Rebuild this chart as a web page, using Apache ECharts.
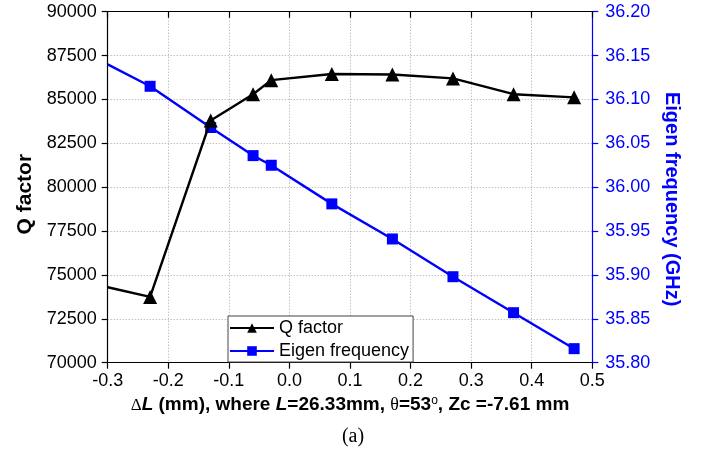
<!DOCTYPE html>
<html>
<head>
<meta charset="utf-8">
<script src="https://cdn.jsdelivr.net/npm/echarts@6/dist/echarts.min.js"></script>
<style>
  html, body { margin: 0; padding: 0; background: #fff; }
  #chart { width: 706px; height: 453px; }
</style>
</head>
<body>
<div id="chart"></div>
<script>
// Length offset ΔL (mm); the first point only starts the curve and has no marker
const deltaL = [-0.3, -0.23, -0.13, -0.06, -0.03, 0.07, 0.17, 0.27, 0.37, 0.47];
const qFactor = [74300, 73750, 83800, 85300, 86100, 86450, 86420, 86200, 85300, 85120];
const eigenFreq = [36.140, 36.115, 36.068, 36.036, 36.025, 35.981, 35.941, 35.898, 35.857, 35.816];

const qTicks = { min: 70000, max: 90000, step: 2500 };
const fTicks = { min: 35.8, max: 36.2, step: 0.05 };
const xTicks = { min: -0.3, max: 0.5, step: 0.1 };

const FONT = 'Liberation Sans, Arial, sans-serif';
const SERIF = 'Liberation Serif, Times New Roman, serif';
const BLUE = '#0000ff';

function pairs(ys) {
  return deltaL.map((x, i) => i === 0
    ? { value: [x, ys[i]], symbol: 'none' }
    : [x, ys[i]]);
}

const gridLine = { show: true, lineStyle: { color: '#a8a8a8', type: [1, 2], width: 1 } };

const chart = echarts.init(document.getElementById('chart'), null, { renderer: 'canvas' });

chart.setOption({
  backgroundColor: '#fff',
  animation: false,
  grid: { left: 107.7, right: 113.7, top: 11.7, bottom: 90.3 },
  legend: {
    left: 228, top: 316,
    orient: 'vertical',
    itemWidth: 44, itemHeight: 12, itemGap: 5,
    padding: [3, 4, 2, 1],
    backgroundColor: '#fff',
    borderColor: '#444', borderWidth: 1, borderRadius: 0,
    textStyle: { fontFamily: FONT, fontSize: 18, color: '#000' },
    data: ['Q factor', 'Eigen frequency']
  },
  xAxis: [{
    type: 'value', position: 'bottom',
    min: xTicks.min, max: xTicks.max, interval: xTicks.step,
    axisLine: { onZero: false, lineStyle: { color: '#000', width: 1.2 } },
    axisTick: { length: 6, lineStyle: { color: '#000', width: 1.2 } },
    axisLabel: { fontFamily: FONT, fontSize: 18, color: '#000', margin: 9,
      formatter: v => v.toFixed(1) },
    splitLine: gridLine,
    name: '{d|Δ}{i|L}{b| (mm), where }{i|L}{b|=26.33mm, }{t|θ}{b|=53}{o|o}{b|, Zc =-7.61 mm}',
    nameLocation: 'middle', nameGap: 31,
    nameTextStyle: {
      rich: {
        b: { fontFamily: FONT, fontSize: 19, fontWeight: 'bold', color: '#000' },
        i: { fontFamily: FONT, fontSize: 19, fontWeight: 'bold', fontStyle: 'italic', color: '#000' },
        d: { fontFamily: SERIF, fontSize: 17, color: '#000' },
        t: { fontFamily: SERIF, fontSize: 18, color: '#000' },
        o: { fontFamily: FONT, fontSize: 12, color: '#000', verticalAlign: 'top', padding: [0, 0, 9, 0] }
      }
    }
  }, {
    type: 'value', position: 'top',
    min: xTicks.min, max: xTicks.max, interval: xTicks.step,
    axisLine: { onZero: false, lineStyle: { color: '#000', width: 1.2 } },
    axisTick: { inside: true, length: 6, lineStyle: { color: '#000', width: 1.2 } },
    axisLabel: { show: false },
    splitLine: { show: false }
  }],
  yAxis: [{
    type: 'value', position: 'left',
    min: qTicks.min, max: qTicks.max, interval: qTicks.step,
    axisLine: { show: true, onZero: false, lineStyle: { color: '#000', width: 1.2 } },
    axisTick: { show: true, length: 6, lineStyle: { color: '#000', width: 1.2 } },
    axisLabel: { fontFamily: FONT, fontSize: 18, color: '#000', margin: 11,
      formatter: v => String(v) },
    splitLine: gridLine,
    name: 'Q factor', nameLocation: 'middle', nameGap: 70,
    nameTextStyle: { fontFamily: FONT, fontSize: 21, fontWeight: 'bold', color: '#000', padding: [0, 14, 0, 0] }
  }, {
    type: 'value', position: 'right',
    min: fTicks.min, max: fTicks.max, interval: fTicks.step,
    axisLine: { show: true, onZero: false, lineStyle: { color: BLUE, width: 1.2 } },
    axisTick: { show: true, length: 6, lineStyle: { color: BLUE, width: 1.2 } },
    axisLabel: { fontFamily: FONT, fontSize: 18, color: BLUE, margin: 13,
      formatter: v => v.toFixed(2) },
    splitLine: { show: false },
    name: 'Eigen frequency (GHz)', nameLocation: 'middle', nameGap: 68, nameRotate: -90,
    nameTextStyle: { fontFamily: FONT, fontSize: 20, fontWeight: 'bold', color: BLUE, padding: [0, 0, 0, 24] }
  }],
  series: [{
    name: 'Q factor', type: 'line',
    xAxisIndex: 0, yAxisIndex: 0,
    data: pairs(qFactor),
    symbol: 'triangle', symbolSize: 14,
    lineStyle: { color: '#000', width: 2.4 },
    itemStyle: { color: '#000' },
    z: 3
  }, {
    name: 'Eigen frequency', type: 'line',
    xAxisIndex: 0, yAxisIndex: 1,
    data: pairs(eigenFreq),
    symbol: 'rect', symbolSize: 11,
    lineStyle: { color: BLUE, width: 2.4 },
    itemStyle: { color: BLUE },
    z: 2
  }],
  graphic: [{
    type: 'text', left: 'center', top: 427,
    style: { text: '(a)', fontFamily: SERIF, fontSize: 20, fill: '#000' },
    x: -4
  }]
});
</script>
</body>
</html>
